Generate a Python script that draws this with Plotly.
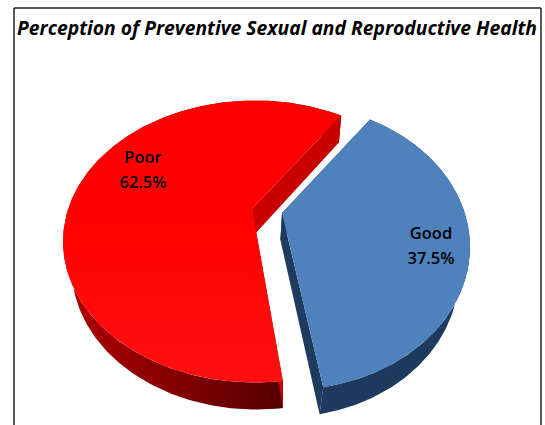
import numpy as np
import plotly.graph_objects as go

categories = ["Good", "Poor"]
values = [37.5, 62.5]
title_text = "Perception of Preventive Sexual and Reproductive Health"
top_colors = ["#4F81BD", "#FF0000"]
top_colors_low = ["#4F81BD", "#FF1010"]
cut_wall_colors = ["#1F3A5F", "#C80000"]
wall_left = ["#1F3A5F", "#A80000"]
wall_right = ["#1F3A5F", "#560000"]

W, H = 545, 425
DEPTH = 27.0
# ellipse centre x, centre y, rx, ry, perspective offset of the pie centre
geom = {"Good": (287.0, 247.0, 183.0, 143.0, -0.238),
        "Poor": (255.0, 241.5, 192.0, 141.0, -0.232)}
apex_dx = {"Good": -5.0, "Poor": -3.0}
# base of the extrusion: pivot x and horizontal scale
base = {"Good": (250.0, 0.95), "Poor": (283.0, 0.96)}
# the picture's drawn slices: first angle and sweep scale
draw_start = {"Good": 34.0, "Poor": 173.4}
sweep_scale = {"Good": 1.015, "Poor": 0.978}
name_pos = {"Good": (431.0, 235.0), "Poor": (143.0, 159.0)}
pct_pos = {"Good": (431.0, 260.0), "Poor": (143.0, 184.0)}


def project(theta_deg, g):
    """Pie angle (clockwise from 12 o'clock) to the page, through a perspective tilt."""
    cx, cy, rx, ry, a = g
    t = np.radians(theta_deg)
    u, v = np.sin(t), -np.cos(t)
    d = 1 + a * v
    return cx + rx * u * np.sqrt(1 - a * a) / d, cy + ry * (v + a) / d


def centre(g):
    cx, cy, rx, ry, a = g
    return cx, cy + ry * a


fig = go.Figure()


def poly(x, y, color, gradient=None):
    kw = dict(fillcolor=color)
    if gradient:
        kw = dict(fillgradient=gradient)
    fig.add_trace(go.Scatter(x=list(x), y=list(y), mode="lines", fill="toself",
                             line=dict(color="rgba(0,0,0,0)", width=0),
                             hoverinfo="skip", showlegend=False, **kw))


total = sum(values)
for name, val, top, low, cut, w0, w1 in zip(categories, values, top_colors, top_colors_low,
                                            cut_wall_colors, wall_left, wall_right):
    sweep = 360.0 * val / total * sweep_scale[name]
    g = geom[name]
    pivot, s = base[name]
    th = np.linspace(draw_start[name], draw_start[name] + sweep, 241)
    ax, ay = project(th, g)
    bx, by = pivot + (ax - pivot) * s, ay + DEPTH
    c0x, c0y = centre(g)
    c0x += apex_dx[name]
    l0x, l0y = pivot + (c0x - pivot) * s, c0y + DEPTH

    # outer wall
    poly(list(ax) + list(bx[::-1]), list(ay) + list(by[::-1]), w0,
         None if w0 == w1 else dict(type="horizontal", start=85, stop=283,
                                    colorscale=[[0, w0], [1, w1]]))
    # radial cut walls
    for e in (0, -1):
        poly([c0x, ax[e], bx[e], l0x, c0x], [c0y, ay[e], by[e], l0y, c0y], cut)
    # top face
    poly([c0x] + list(ax) + [c0x], [c0y] + list(ay) + [c0y], top,
         None if top == low else dict(type="vertical", start=100, stop=382,
                                      colorscale=[[0, top], [0.4, top], [1, low]]))

label_font = dict(family="Open Sans", size=16.5, color="#000000", weight=600)
fig.add_trace(go.Scatter(
    x=[name_pos[c][0] for c in categories] + [pct_pos[c][0] for c in categories],
    y=[name_pos[c][1] for c in categories] + [pct_pos[c][1] for c in categories],
    mode="text",
    text=list(categories) + [f"{v:.1f}%" for v in values],
    textfont=label_font, hoverinfo="skip", showlegend=False))

fig.update_layout(
    width=W, height=H, margin=dict(l=0, r=0, t=0, b=0),
    paper_bgcolor="white", plot_bgcolor="white", showlegend=False,
    xaxis=dict(range=[0, W], visible=False, fixedrange=True),
    yaxis=dict(range=[H, 0], visible=False, fixedrange=True),
    title=dict(text=f"<b><i>{title_text}</i></b>", x=277 / W, xanchor="center",
               y=1 - 28 / H, yanchor="middle",
               font=dict(family="Open Sans", size=19.3, color="#000000")),
    shapes=[dict(type="line", xref="x", yref="y", x0=x0, x1=x1, y0=y0, y1=y1,
                 line=dict(color="#222222", width=1.5))
            for x0, x1, y0, y1 in [(14, 14, 8, 425), (14, 541, 8, 8), (541, 541, 8, 425)]],
)
fig.write_html("out.html", config={"displayModeBar": False},
               post_script="document.body.style.margin='0';")
